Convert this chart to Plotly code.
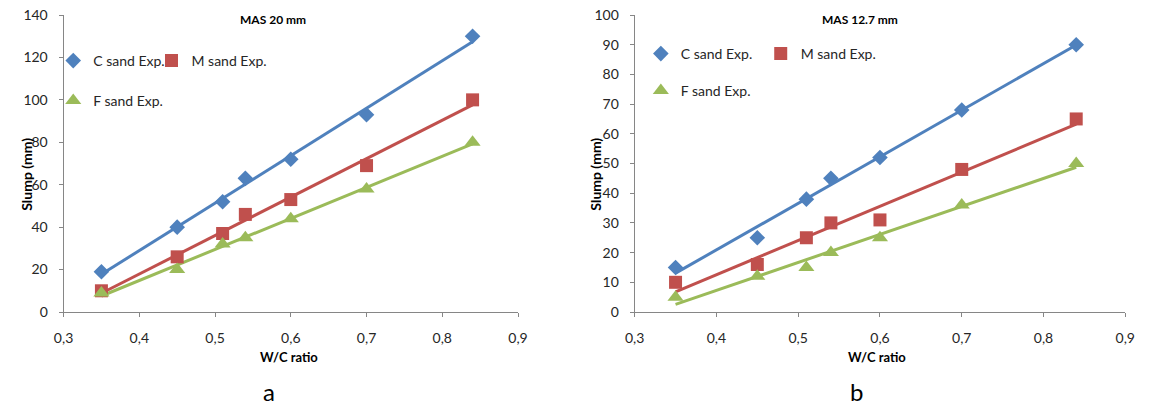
import numpy as np
import plotly.graph_objects as go

wc_ratio = [0.35, 0.45, 0.51, 0.54, 0.60, 0.70, 0.84]

# Panel a: MAS 20 mm
a_c_sand = [19, 40, 52, 63, 72, 93, 130]
a_m_sand = [10, 26, 37, 46, 53, 69, 100]
a_f_sand = [9, 20, 32, 35, 44, 58, 80]

# Panel b: MAS 12.7 mm
b_c_sand = [15, 25, 38, 45, 52, 68, 90]
b_m_sand = [10, 16, 25, 30, 31, 48, 65]
b_f_sand = [5, 12, 15, 20, 25, 36, 50]

series_names = ["C sand Exp.", "M sand Exp.", "F sand Exp."]
x_tickvals = [0.3, 0.4, 0.5, 0.6, 0.7, 0.8, 0.9]
x_ticktext = ["0,3", "0,4", "0,5", "0,6", "0,7", "0,8", "0,9"]
a_yticks = [0, 20, 40, 60, 80, 100, 120, 140]
b_yticks = [0, 10, 20, 30, 40, 50, 60, 70, 80, 90, 100]

colors = ["#4F81BD", "#C0504D", "#9BBB59"]
symbols = ["diamond", "square", "triangle-up"]
msizes = [12, 13, 14]

W, H = 1151, 405
FONT = "Lato"

fig = go.Figure()


def trend(xs, ys):
    k, b = np.polyfit(xs, ys, 1)
    xe = [min(xs), max(xs)]
    return xe, [k * v + b for v in xe]


panels = [
    ("x", "y", [a_c_sand, a_m_sand, a_f_sand], 0),
    ("x2", "y2", [b_c_sand, b_m_sand, b_f_sand], 3),
]

for xa, ya, data, li in panels:
    for i, ys in enumerate(data):
        xe, ye = trend(wc_ratio, ys)
        fig.add_trace(go.Scatter(x=xe, y=ye, mode="lines", xaxis=xa, yaxis=ya,
                                 line=dict(color=colors[i], width=3),
                                 showlegend=False, hoverinfo="skip", cliponaxis=False))
    for i, ys in enumerate(data):
        lg = "legend" if li + i == 0 else f"legend{li + i + 1}"
        fig.add_trace(go.Scatter(x=wc_ratio, y=ys, mode="markers", xaxis=xa, yaxis=ya,
                                 name=series_names[i], legend=lg,
                                 marker=dict(color=colors[i], symbol=symbols[i], size=msizes[i]),
                                 cliponaxis=False))

axis_common = dict(showline=True, linecolor="#868686", linewidth=1, ticks="outside",
                   ticklen=4, tickcolor="#868686", showgrid=False, zeroline=False,
                   tickfont=dict(family=FONT, size=14, color="#262626"))

fig.update_layout(
    width=W, height=H,
    margin=dict(l=0, r=0, t=15, b=93),
    paper_bgcolor="white", plot_bgcolor="white",
    font=dict(family=FONT, color="#000000"),
    xaxis=dict(domain=[54.5 / W, 517 / W], range=[0.3, 0.9], tickvals=x_tickvals,
               ticktext=x_ticktext, anchor="y", ticklabelstandoff=9, **axis_common),
    yaxis=dict(domain=[0, 1], range=[0, 140], tickvals=a_yticks, anchor="x",
               ticklabelstandoff=8, **axis_common),
    xaxis2=dict(domain=[635.7 / W, 1135 / W], range=[0.3, 0.9], tickvals=x_tickvals,
                ticktext=x_ticktext, anchor="y2", ticklabelstandoff=9, **axis_common),
    yaxis2=dict(domain=[0, 1], range=[0, 100], tickvals=b_yticks, anchor="x2",
                ticklabelstandoff=8, **axis_common),
)

# legends: one entry per legend box, positioned like the Excel layout
leg_pos = [(44, 61), (144, 61), (44, 101), (642, 54), (764, 54), (642, 91)]
plot_top, plot_bot = 15, 312


def py(ypix):
    return (plot_bot - ypix) / (plot_bot - plot_top)


for k, (lx, ly) in enumerate(leg_pos):
    key = "legend" if k == 0 else f"legend{k + 1}"
    fig.update_layout({key: dict(x=lx / W, y=py(ly), xanchor="left", yanchor="middle",
                                 bgcolor="rgba(0,0,0,0)", borderwidth=0,
                                 font=dict(family=FONT, size=14, color="#262626"),
                                 itemwidth=30, tracegroupgap=0)})

ann = []


def add_text(xpix, ypix, text, size, bold=False, angle=0):
    ann.append(dict(x=xpix / W, y=py(ypix), xref="paper", yref="paper",
                    text=f"<b>{text}</b>" if bold else text, showarrow=False,
                    textangle=angle, xanchor="center", yanchor="middle",
                    font=dict(family=FONT, size=size, color="#000000")))


add_text(268, 19, "MAS 20 mm", 12, bold=True)
add_text(865, 19, "MAS 12.7 mm", 12, bold=True)
add_text(16, 174, "Slump (mm)", 14, bold=True, angle=-90)
add_text(595, 174, "Slump (mm)", 14, bold=True, angle=-90)
add_text(284, 357, "W/C ratio", 13, bold=True)
add_text(882, 357, "W/C ratio", 13, bold=True)
add_text(264, 391, "a", 24)
add_text(861, 391, "b", 24)
fig.update_layout(annotations=ann)

fig.write_html("out.html", config={"displayModeBar": False},
               post_script="document.body.style.margin='0';document.body.style.padding='0';")
